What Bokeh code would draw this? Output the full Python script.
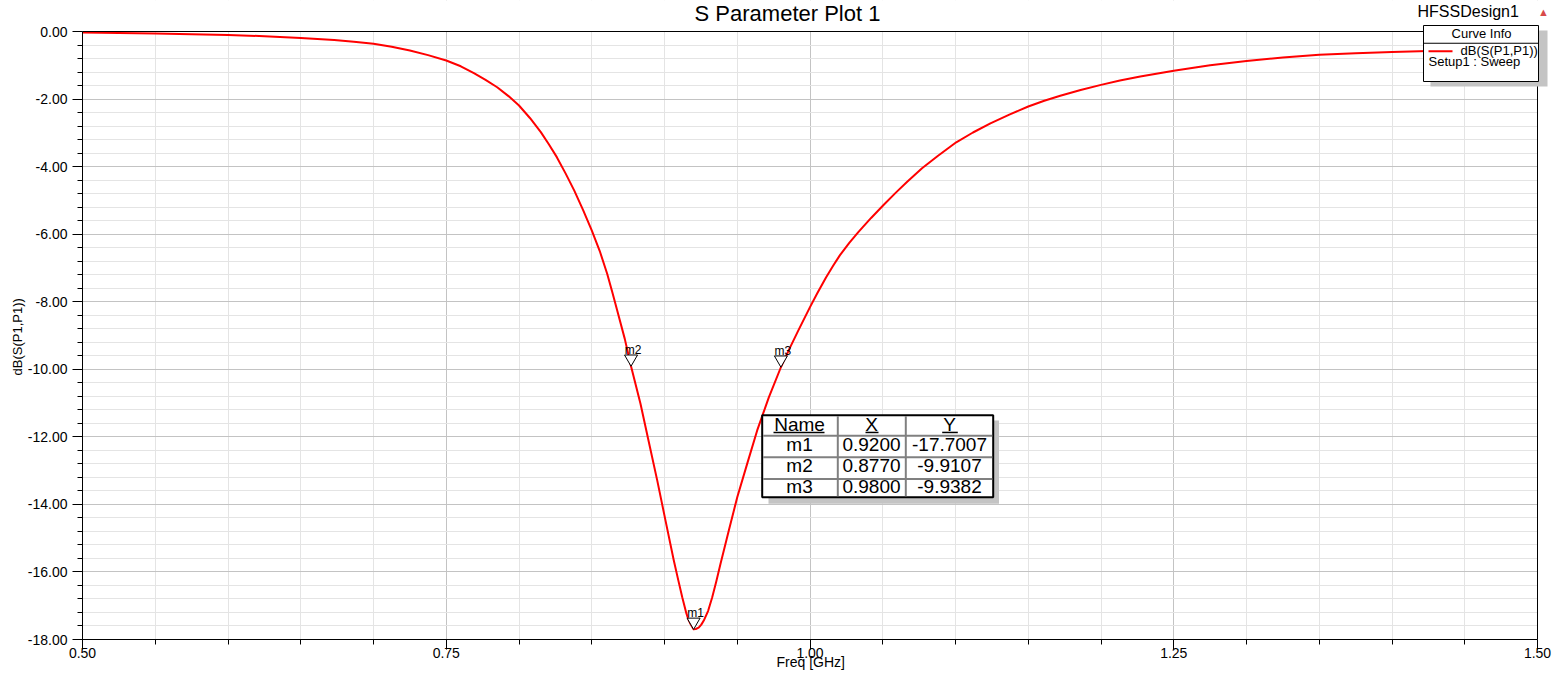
import numpy as np
from bokeh.plotting import figure
from bokeh.models import (Range1d, FixedTicker, NumeralTickFormatter, Label,
                          BoxAnnotation, Title)
from bokeh.core.properties import value
from bokeh.embed import file_html
from bokeh.resources import INLINE

# ---------------- data ----------------
freq_ghz = [
    0.500, 0.550, 0.575, 0.600, 0.625, 0.650, 0.673, 0.6865, 0.700, 0.7125,
    0.725, 0.7375, 0.750, 0.760, 0.769, 0.777, 0.785, 0.793, 0.800, 0.8075,
    0.815, 0.8205, 0.826, 0.832, 0.838, 0.844, 0.850, 0.8555, 0.8606, 0.864,
    0.8675, 0.8727, 0.877, 0.8835, 0.889, 0.895, 0.9007, 0.9064, 0.9095, 0.9122,
    0.915, 0.9165, 0.918, 0.920, 0.9215, 0.9235, 0.9253, 0.927, 0.930, 0.9328,
    0.9355, 0.9385, 0.9442, 0.950, 0.9568, 0.9637, 0.9717, 0.980, 0.986, 0.992,
    1.000, 1.005, 1.011, 1.016, 1.0206, 1.027, 1.0332, 1.042, 1.0507, 1.059,
    1.0668, 1.077, 1.088, 1.1005, 1.112, 1.124, 1.137, 1.150, 1.161, 1.172,
    1.186, 1.200, 1.213, 1.227, 1.250, 1.275, 1.300, 1.325, 1.350, 1.375,
    1.400, 1.425, 1.450, 1.475, 1.500]
s11_db = [
    -0.03, -0.06, -0.08, -0.10, -0.14, -0.19, -0.25, -0.30, -0.36, -0.45,
    -0.56, -0.70, -0.86, -1.03, -1.23, -1.43, -1.65, -1.92, -2.19, -2.56,
    -2.98, -3.34, -3.72, -4.20, -4.71, -5.28, -5.89, -6.50, -7.17, -7.70,
    -8.26, -9.10, -9.91, -11.02, -12.11, -13.29, -14.48, -15.66, -16.25, -16.75,
    -17.22, -17.42, -17.55, -17.70, -17.69, -17.65, -17.56, -17.44, -17.15, -16.75,
    -16.30, -15.76, -14.77, -13.79, -12.80, -11.81, -10.83, -9.94, -9.38, -8.85,
    -8.16, -7.75, -7.28, -6.93, -6.62, -6.26, -5.94, -5.52, -5.13, -4.77,
    -4.45, -4.05, -3.68, -3.28, -2.99, -2.72, -2.46, -2.22, -2.05, -1.90,
    -1.73, -1.58, -1.45, -1.33, -1.16, -1.00, -0.87, -0.77, -0.69, -0.645,
    -0.61, -0.575, -0.545, -0.515, -0.49]

marker_names = ["m1", "m2", "m3"]
marker_x = [0.9200, 0.8770, 0.9800]
marker_y = [-17.7007, -9.9107, -9.9382]
table_headers = ["Name", "X", "Y"]

x_major_ticks = [0.50, 0.75, 1.00, 1.25, 1.50]
y_major_ticks = [0.0, -2.0, -4.0, -6.0, -8.0, -10.0, -12.0, -14.0, -16.0, -18.0]
x_minor_ticks = [round(0.50 + 0.05 * i, 2) for i in range(21)]
y_minor_ticks = [round(-18.0 + 0.4 * i, 1) for i in range(46)]

title_text = "S Parameter Plot 1"
design_text = "HFSSDesign1"
x_label = "Freq [GHz]"
y_label = "dB(S(P1,P1))"
legend_title = "Curve Info"
legend_curve = "dB(S(P1,P1))"
legend_setup = "Setup1 : Sweep"

# ---------------- layout constants ----------------
FONT = "Liberation Sans"
X0, X1 = 0.5, 1.5
Y0, Y1 = -18.0, 0.0
PLOT_W_PX, PLOT_H_PX = 1455, 608        # the axes box
PAD_TOP_PX, PAD_RIGHT_PX = 31, 28       # room for title / legend inside the frame
LEFT_PX, BOTTOM_PX = 82, 42
px_per_x = PLOT_W_PX / (X1 - X0)
px_per_y = PLOT_H_PX / (Y1 - Y0)

p = figure(frame_width=PLOT_W_PX + PAD_RIGHT_PX, frame_height=PLOT_H_PX + PAD_TOP_PX,
           x_range=Range1d(X0, X1 + PAD_RIGHT_PX / px_per_x),
           y_range=Range1d(Y0, Y1 + PAD_TOP_PX / px_per_y),
           output_backend="svg", toolbar_location=None,
           min_border_left=LEFT_PX, min_border_right=0,
           min_border_top=0, min_border_bottom=BOTTOM_PX)
p.title.visible = False
p.background_fill_color = "white"
p.border_fill_color = "white"
p.outline_line_color = None

p.xaxis.ticker = FixedTicker(ticks=x_major_ticks, minor_ticks=x_minor_ticks)
p.yaxis.ticker = FixedTicker(ticks=y_major_ticks, minor_ticks=y_minor_ticks)
p.xaxis.bounds = (X0, X1)
p.yaxis.bounds = (Y0, Y1)
for ax in (p.xaxis[0], p.yaxis[0]):
    ax.formatter = NumeralTickFormatter(format="0.00")
    ax.axis_line_color = "black"
    ax.major_tick_line_color = "black"
    ax.minor_tick_line_color = "black"
    ax.major_tick_in = 0
    ax.minor_tick_in = 0
    ax.major_tick_out = 10
    ax.minor_tick_out = 5
    ax.major_label_text_font = FONT
    ax.major_label_text_font_size = "14px"
    ax.major_label_text_color = "black"
p.xaxis.major_label_standoff = -2
p.yaxis.major_label_standoff = 5

for g in (p.xgrid[0], p.ygrid[0]):
    g.grid_line_color = "#c3c3c3"
    g.grid_line_width = 1
    g.minor_grid_line_color = "#e4e4e4"
    g.minor_grid_line_width = 1

# axis titles (placed with offsets so they sit where the reference has them)
p.add_layout(Title(text=y_label, align="left", offset=264, vertical_align="bottom",
                   standoff=0, text_font=FONT, text_font_size="13px",
                   text_font_style="normal", text_color="black"), "left")
p.add_layout(Title(text=x_label, align="left", offset=694, vertical_align="top",
                   standoff=-13, text_font=FONT, text_font_size="14px",
                   text_font_style="normal", text_color="black"), "below")

# curve
p.line(freq_ghz, s11_db, line_color="#ff0000", line_width=2, line_join="round")

# markers: inverted triangles whose tip sits on the marked point
tri_size = 13
tip_px = (tri_size / 2) * np.sqrt(3) * 2 / 3
marker_cy = [y + tip_px / px_per_y for y in marker_y]
p.scatter(marker_x, marker_cy, marker="inverted_triangle", size=tri_size,
          fill_color="white", line_color="black", line_width=1)
p.text(marker_x, marker_y, text=marker_names, x_offset=2, y_offset=-16,
       text_align="center", text_baseline="alphabetic",
       text_font=value(FONT), text_font_size="12px", text_color="black")

# white masks over the padding area, then the axes box outline
p.add_layout(BoxAnnotation(bottom=Y1, fill_color="white", fill_alpha=1.0,
                           line_alpha=0.0))
p.add_layout(BoxAnnotation(left=X1, fill_color="white", fill_alpha=1.0,
                           line_alpha=0.0))
p.add_layout(BoxAnnotation(left=X0, right=X1, bottom=Y0, top=Y1, fill_alpha=0.0,
                           line_color="black", line_width=1, line_alpha=1.0))

# ---------------- annotations in screen units (reference pixel positions) ----------------
IMG_LEFT = LEFT_PX
IMG_BOTTOM = PAD_TOP_PX + PLOT_H_PX


def sxi(ix):
    return ix - IMG_LEFT


def syi(iy):
    return IMG_BOTTOM - iy


def box(l, t, r, b, fill, line=None, lw=0):
    p.add_layout(BoxAnnotation(
        left=sxi(l), right=sxi(r), top=syi(t), bottom=syi(b),
        left_units="screen", right_units="screen",
        top_units="screen", bottom_units="screen",
        fill_color=fill, fill_alpha=1.0,
        line_color=line if line else fill, line_alpha=1.0 if line else 0.0,
        line_width=lw))


def label(ix, iy, text, size, align="left", baseline="middle", color="black"):
    p.add_layout(Label(x=sxi(ix), y=syi(iy), x_units="screen", y_units="screen",
                       text=text, text_font=FONT, text_font_size=size,
                       text_align=align, text_baseline=baseline,
                       text_color=color))


# title and design name
label(787, 13, title_text, "22px", align="center")
label(1417, 11, design_text, "16px")
label(1543, 11, "\u25b2", "11px", align="center", color="#d84a4a")

# Curve Info legend
box(1430, 30, 1547, 86, "#c4c4c4")
box(1423, 25, 1538, 81, "white", "black", 1)
box(1423, 42.2, 1538, 43.2, "black")
box(1428, 49.7, 1452, 51.7, "#ff0000")
label(1481, 33.3, legend_title, "13px", align="center")
label(1460, 50, legend_curve, "13px")
label(1428, 60.8, legend_setup, "13px")

# marker table
T_L, T_R, T_T, T_B = 761.7, 992.7, 414.7, 496.7
col_sep = [837.3, 905.3]
row_sep = [435.2, 456.7, 478.5]
col_cx = [799, 871, 949]
box(768, 420, 998.5, 503.3, "#c4c4c4")
box(T_L, T_T, T_R, T_B, "white", "black", 2)
for cx in col_sep:
    box(cx - 1, T_T + 1, cx + 1, T_B - 1, "#808080")
for ry in row_sep:
    box(T_L + 1, ry - 1, T_R - 1, ry + 1, "#808080")
underline_spans = [(773, 824), (865, 878), (941.7, 957.3)]
for cx, h, (u0, u1) in zip(col_cx, table_headers, underline_spans):
    label(cx, 424, h, "19px", align="center")
    box(u0, 431.2, u1, 432.7, "black")
row_mid = [444.3, 465.3, 486.4]
for name, mx, my, ym in zip(marker_names, marker_x, marker_y, row_mid):
    label(col_cx[0], ym, name, "19px", align="center")
    label(col_cx[1], ym, f"{mx:.4f}", "19px", align="center")
    label(col_cx[2], ym, f"{my:.4f}", "19px", align="center")

open("out.html", "w").write(file_html(p, INLINE))
